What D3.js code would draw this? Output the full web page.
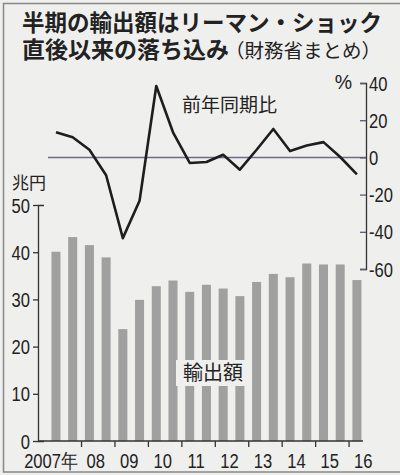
<!DOCTYPE html>
<html>
<head>
<meta charset="utf-8">
<script src="https://cdn.jsdelivr.net/npm/d3@7"></script>
<style>
  body { margin: 0; background: #efefed; }
  svg { display: block; }
  .num { font-family: "Liberation Sans", Arial, sans-serif; font-size: 19.5px; fill: #222; }
  .jp { font-family: "Noto Sans CJK JP", sans-serif; fill: #222; }
</style>
</head>
<body>
<div id="chart"></div>
<script>
// half-year periods, 2007 H1 .. 2016 H1
var periods = ["07上","07下","08上","08下","09上","09下","10上","10下","11上","11下",
  "12上","12下","13上","13下","14上","14下","15上","15下","16上"]
// export value, trillion yen
var exportsValue = [40.1,43.2,41.5,38.9,23.7,29.9,32.8,34.0,31.6,33.1,
  32.3,30.7,33.7,35.4,34.7,37.6,37.4,37.4,34.1]
// change from same period of previous year, %
var yoyChange = [13.5,10.8,4.1,-9.6,-43.4,-23.3,38.4,13.5,-3.0,-2.5,
  1.4,-6.6,4.1,15.3,3.4,6.4,8.2,0.2,-9.1]
var yearLabels = ["2007年","08","09","10","11","12","13","14","15","16"]
var leftTicks = [0,10,20,30,40,50]
var rightTicks = [40,20,0,-20,-40,-60]

var width = 400, height = 475

// squeeze numbers a bit, the print uses a narrow face
function condense(sel, k) {
  sel.each(function() {
    var w = this.getComputedTextLength()
    d3.select(this).attr("textLength", w * k).attr("lengthAdjust", "spacingAndGlyphs")
  })
}

var svg = d3.select("#chart").append("svg")
  .attr("width", width)
  .attr("height", height)

// frame (right edge is cut off in the scan)
svg.append("rect")
  .attr("x", 3.5).attr("y", 3.5)
  .attr("width", 420).attr("height", 468.5)
  .attr("fill", "none").attr("stroke", "#888").attr("stroke-width", 1.5)

// title
svg.append("text").attr("class", "jp")
  .attr("x", 22).attr("y", 31)
  .style("font-size", "22.5px").style("font-weight", "bold")
  .text("半期の輸出額はリーマン・ショック")
var t2 = svg.append("text").attr("class", "jp")
  .attr("x", 22).attr("y", 58)
  .style("font-weight", "bold")
t2.append("tspan").style("font-size", "23px").text("直後以来の落ち込み")
t2.append("tspan").style("font-size", "19.5px").style("font-weight", "normal")
  .attr("dx", -4).text("（財務省まとめ）")

var x = d3.scaleBand()
  .domain(periods)
  .range([47.6, 47.6 + 16.72 * periods.length])
  .paddingInner(0.46)
  .paddingOuter(0.23)

var yL = d3.scaleLinear().domain([0, 50]).range([441, 205])
var yR = d3.scaleLinear().domain([-60, 40]).range([269, 83])

var step = x.step()
var x0 = x.range()[0]

// bars
svg.append("g").selectAll("rect")
  .data(exportsValue)
  .enter().append("rect")
  .attr("x", function(d, i) { return x(periods[i]) })
  .attr("width", x.bandwidth())
  .attr("y", function(d) { return yL(d) })
  .attr("height", function(d) { return yL(0) - yL(d) })
  .attr("fill", "#a0a0a0")

// label box over bars
svg.append("rect")
  .attr("x", 176).attr("y", 360).attr("width", 74).attr("height", 26)
  .attr("fill", "#efefed")
svg.append("text").attr("class", "jp")
  .attr("x", 213).attr("y", 380)
  .attr("text-anchor", "middle")
  .style("font-size", "20px")
  .text("輸出額")

// left axis
var leftAxis = d3.axisLeft(yL)
  .tickValues(leftTicks)
  .tickSizeInner(5)
  .tickSizeOuter(-6)
  .tickPadding(3)
var gl = svg.append("g")
  .attr("transform", "translate(38,0)")
  .call(leftAxis)
gl.selectAll("text").attr("class", "num").attr("dy", "0.36em")
gl.selectAll("line, path").attr("stroke", "#333").attr("stroke-width", 1.3)
condense(gl.selectAll("text"), 0.85)

svg.append("text").attr("class", "jp")
  .attr("x", 12).attr("y", 189)
  .style("font-size", "17px")
  .text("兆円")

// baseline and year ticks
svg.append("line")
  .attr("x1", 38).attr("x2", 363)
  .attr("y1", yL(0)).attr("y2", yL(0))
  .attr("stroke", "#333").attr("stroke-width", 1.5)

var xAxis = d3.axisBottom(d3.scaleLinear().domain([0, periods.length]).range(x.range()))
  .tickValues(d3.range(2, periods.length, 2))
  .tickSize(6)
  .tickFormat("")
var gx = svg.append("g")
  .attr("transform", "translate(0," + yL(0) + ")")
  .call(xAxis)
gx.select(".domain").remove()
gx.selectAll("line").attr("stroke", "#333").attr("stroke-width", 1.3)

var yl = svg.append("g").selectAll("text")
  .data(yearLabels)
  .enter().append("text")
  .attr("class", "num")
  .attr("x", function(d, i) { return i == 0 ? x0 + 2 * step - 3 : x0 + step * (2 * i + 1) - 2 })
  .attr("y", 468)
  .attr("text-anchor", function(d, i) { return i == 0 ? "end" : "middle" })
  .text(function(d) { return d })
condense(yl, 0.85)

// zero line for yoy
svg.append("line")
  .attr("x1", 48).attr("x2", 366)
  .attr("y1", yR(0)).attr("y2", yR(0))
  .attr("stroke", "#6b6b8a").attr("stroke-width", 1.5)

// right axis, plain hyphen for the minus like the print
var rightAxis = d3.axisRight(yR)
  .tickValues(rightTicks)
  .tickSize(-6)
  .tickPadding(3)
  .tickFormat(function(d) { return String(d) })
var gr = svg.append("g")
  .attr("transform", "translate(366,0)")
  .call(rightAxis)
gr.selectAll("text").attr("class", "num").attr("dy", "0.36em")
gr.selectAll("line").attr("stroke", "#5a5a78").attr("stroke-width", 1.3)
gr.select(".domain").attr("stroke", "#333").attr("stroke-width", 1.3)
condense(gr.selectAll("text"), 0.85)

svg.append("text").attr("class", "num")
  .attr("x", 352).attr("y", 89)
  .attr("text-anchor", "end")
  .text("%")

// yoy line
var line = d3.line()
  .x(function(d, i) { return x(periods[i]) + x.bandwidth() / 2 })
  .y(function(d) { return yR(d) })

svg.append("path")
  .datum(yoyChange)
  .attr("d", line)
  .attr("fill", "none")
  .attr("stroke", "#1e1e1e")
  .attr("stroke-width", 2.6)
  .attr("stroke-linejoin", "round")

svg.append("text").attr("class", "jp")
  .attr("x", 182).attr("y", 112)
  .style("font-size", "19px")
  .text("前年同期比")
</script>
</body>
</html>
